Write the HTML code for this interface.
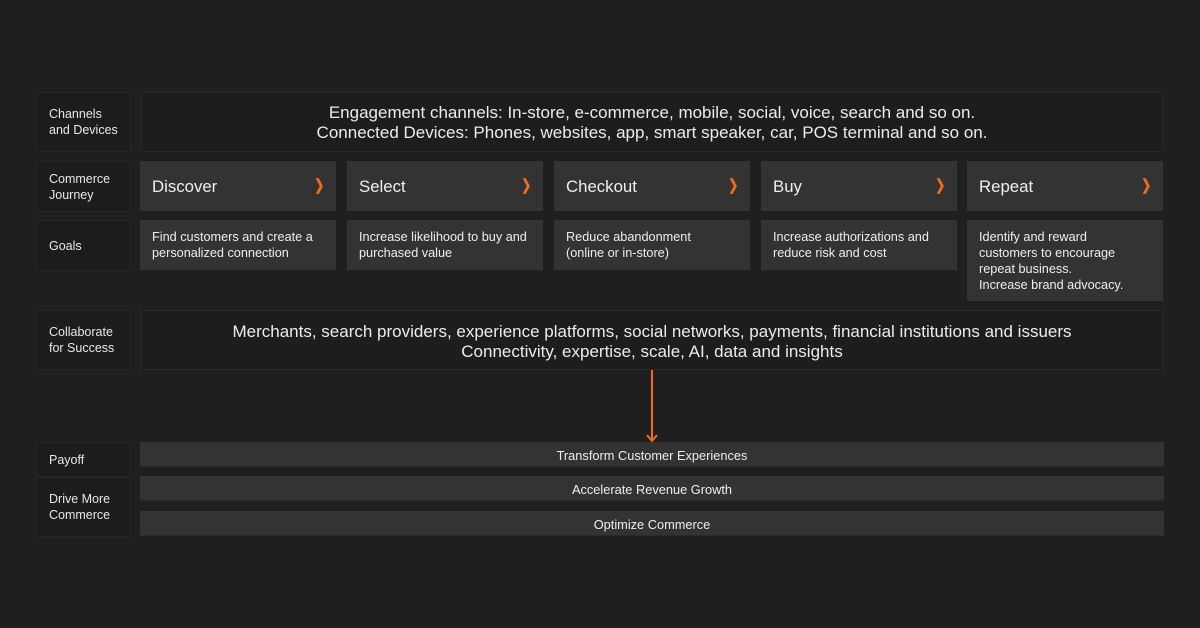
<!DOCTYPE html>
<html><head><meta charset="utf-8"><style>
*{margin:0;padding:0;box-sizing:border-box}
body{width:1200px;height:628px;background:#1f1f1f;font-family:"Liberation Sans",Arial,sans-serif;color:#e6e6e6;position:relative;overflow:hidden}
.b{position:absolute}
.lab{background:#1c1c1c;border:1px solid #262626;font-size:12.5px;line-height:16px;padding-left:12px;display:flex;align-items:center;color:#e8e8e8}
.big{background:#1d1d1d;border:1px solid #292929;font-size:17px;line-height:20px;text-align:center;display:flex;flex-direction:column;justify-content:center;color:#ececec}
.j{background:#333;font-size:16.8px;padding-left:12px;padding-top:2px;display:flex;align-items:center;color:#eee}
.j span{position:absolute;right:10px;top:15px;color:#f26b1d;font-weight:bold;font-size:15px;transform:scaleX(.8)}
.g{background:#333;font-size:12.7px;line-height:16px;padding:9px 12px;color:#eee}
.p{background:#333;font-size:12.8px;text-align:center;display:flex;align-items:center;justify-content:center;color:#eee;border-bottom:1px solid #2a2a2a;padding-top:2px}
</style></head><body>
<div class="b lab" style="left:36px;top:92px;width:95px;height:60px">Channels<br>and Devices</div>
<div class="b big" style="left:140px;top:92px;width:1024px;height:60px;padding-top:1px">Engagement channels: In-store, e-commerce, mobile, social, voice, search and so on.<br>Connected Devices: Phones, websites, app, smart speaker, car, POS terminal and so on.</div>

<div class="b lab" style="left:36px;top:161px;width:95px;height:51px">Commerce<br>Journey</div>
<div class="b j" style="left:140px;top:161px;width:196px;height:50px">Discover<span>❯</span></div>
<div class="b j" style="left:347px;top:161px;width:196px;height:50px">Select<span>❯</span></div>
<div class="b j" style="left:554px;top:161px;width:196px;height:50px">Checkout<span>❯</span></div>
<div class="b j" style="left:761px;top:161px;width:196px;height:50px">Buy<span>❯</span></div>
<div class="b j" style="left:967px;top:161px;width:196px;height:50px">Repeat<span>❯</span></div>

<div class="b lab" style="left:36px;top:220px;width:95px;height:51px">Goals</div>
<div class="b g" style="left:140px;top:220px;width:196px;height:50px">Find customers and create a personalized connection</div>
<div class="b g" style="left:347px;top:220px;width:196px;height:50px">Increase likelihood to buy and purchased value</div>
<div class="b g" style="left:554px;top:220px;width:196px;height:50px">Reduce abandonment<br>(online or in-store)</div>
<div class="b g" style="left:761px;top:220px;width:196px;height:50px">Increase authorizations and reduce risk and cost</div>
<div class="b g" style="left:967px;top:220px;width:196px;height:81px;padding-right:30px">Identify and reward customers to encourage repeat business.<br>Increase brand advocacy.</div>

<div class="b lab" style="left:36px;top:310px;width:95px;height:60px">Collaborate<br>for Success</div>
<div class="b big" style="left:140px;top:310px;width:1024px;height:60px;justify-content:flex-start;padding-top:11px">Merchants, search providers, experience platforms, social networks, payments, financial institutions and issuers<br>Connectivity, expertise, scale, AI, data and insights</div>

<svg class="b" style="left:640px;top:369px" width="24" height="75"><line x1="12" y1="1" x2="12" y2="71" stroke="#f26b1d" stroke-width="2"/><polyline points="7,66 12,72 17,66" fill="none" stroke="#f26b1d" stroke-width="2"/></svg>

<div class="b lab" style="left:36px;top:442px;width:95px;height:35px">Payoff</div>
<div class="b lab" style="left:36px;top:477px;width:95px;height:60px">Drive More<br>Commerce</div>
<div class="b p" style="left:140px;top:442px;width:1024px;height:25px">Transform Customer Experiences</div>
<div class="b p" style="left:140px;top:476px;width:1024px;height:25px">Accelerate Revenue Growth</div>
<div class="b p" style="left:140px;top:511px;width:1024px;height:25px">Optimize Commerce</div>
</body></html>
